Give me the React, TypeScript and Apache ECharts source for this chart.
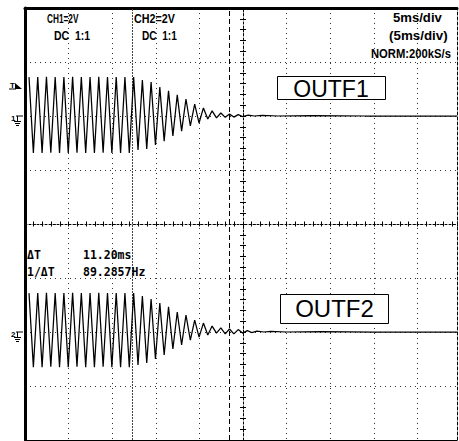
import React, { useEffect, useRef } from "react";
import * as echarts from "echarts";

// ---- time axis (ms), 5 ms/div ----
const TIME_MIN = -25;
const TIME_MAX = 24.54;
const TIME_DIV = 5;
const FIRST_PEAK_MS = -24.54;
const PERIOD_MS = 1.0;

// ---- channel 1 (2 V/div), extremes of each cycle ----
const ch1Peaks = [1.44, 1.44, 1.45, 1.44, 1.44, 1.45, 1.44, 1.44, 1.45, 1.44, 1.44, 1.44, 1.44, 1.33, 1.26, 1.07, 0.93, 0.78, 0.63, 0.44, 0.3, 0.19, 0.11];
const ch1Troughs = [-1.37, -1.37, -1.36, -1.37, -1.37, -1.36, -1.37, -1.37, -1.36, -1.37, -1.37, -1.37, -1.26, -1.22, -1.07, -0.93, -0.74, -0.56, -0.37, -0.26, -0.11, -0.07, -0.05];
const ch1Tail: [number, number][] = [[-1.55, 0.07], [-1.05, -0.04], [-0.55, 0.05], [-0.05, -0.02], [0.6, 0.03], [1.3, 0], [2.2, 0.02], [4, 0], [8, 0.01], [14, 0], [24.54, 0]];

// ---- channel 2 (2 V/div) ----
const ch2Peaks = [1.44, 1.44, 1.45, 1.44, 1.44, 1.45, 1.44, 1.44, 1.45, 1.44, 1.44, 1.44, 1.44, 1.33, 1.22, 1.07, 0.93, 0.74, 0.63, 0.44, 0.33, 0.22, 0.15];
const ch2Troughs = [-1.3, -1.3, -1.29, -1.3, -1.3, -1.29, -1.3, -1.3, -1.29, -1.3, -1.3, -1.3, -1.22, -1.15, -1.0, -0.85, -0.63, -0.48, -0.3, -0.19, -0.11, -0.04, -0.07];
const ch2Tail: [number, number][] = [[-1.55, 0.11], [-1.05, -0.07], [-0.55, 0.09], [-0.05, -0.04], [0.5, 0.05], [1.0, -0.02], [1.6, 0.03], [2.4, 0], [3.2, 0.02], [5, 0], [9, 0.01], [15, 0], [24.54, 0]];

// ---- cursors (ms) ----
const cursorTimes = [-12.75, -1.55];

// ---- texts ----
const headerTexts = ["CH1=2V", "DC  1:1", "CH2=2V", "DC  1:1", "5ms/div", "(5ms/div)", "NORM:200kS/s"];
const cursorTexts = ["ΔT", "11.20ms", "1/ΔT", "89.2857Hz"];
const boxLabels = ["OUTF1", "OUTF2"];

function buildWave(peaks: number[], troughs: number[], tail: [number, number][]) {
  const pts: [number, number][] = [];
  for (let k = 0; k < peaks.length; k++) {
    const t = FIRST_PEAK_MS + k * PERIOD_MS;
    pts.push([t, peaks[k]]);
    if (k < troughs.length) pts.push([t + PERIOD_MS / 2, troughs[k]]);
  }
  return pts.concat(tail);
}

const HEAD_FONT = "'Liberation Sans', Arial, sans-serif";
const MONO_FONT = "'DejaVu Sans Mono', 'Liberation Mono', monospace";

function headText(text: string, x: number, y: number, scaleX: number) {
  return {
    type: "text",
    x,
    y,
    scaleX,
    z: 100,
    style: {
      text,
      fontSize: 12.5,
      fontWeight: "bold",
      fontFamily: HEAD_FONT,
      fill: "#000",
      verticalAlign: "middle",
      textVerticalAlign: "middle",
    },
  };
}

function monoText(text: string, x: number, y: number) {
  return {
    type: "text",
    x,
    y,
    z: 100,
    style: {
      text,
      fontSize: 11.5,
      fontWeight: "bold",
      fontFamily: MONO_FONT,
      fill: "#000",
      verticalAlign: "middle",
      textVerticalAlign: "middle",
    },
  };
}

function groundMarker(label: string, y: number) {
  return [
    { type: "text", x: 11, y: y + 2, z: 100, style: { text: label, fontSize: 8, fontWeight: "bold", fontFamily: HEAD_FONT, fill: "#000", verticalAlign: "middle", textVerticalAlign: "middle" } },
    { type: "line", z: 100, shape: { x1: 16, y1: y, x2: 23, y2: y }, style: { stroke: "#000", lineWidth: 1 } },
    { type: "line", z: 100, shape: { x1: 17.5, y1: y, x2: 17.5, y2: y + 5 }, style: { stroke: "#000", lineWidth: 1 } },
    { type: "line", z: 100, shape: { x1: 14, y1: y + 5.5, x2: 21, y2: y + 5.5 }, style: { stroke: "#000", lineWidth: 1 } },
    { type: "line", z: 100, shape: { x1: 15, y1: y + 7.5, x2: 20, y2: y + 7.5 }, style: { stroke: "#000", lineWidth: 1 } },
    { type: "line", z: 100, shape: { x1: 16, y1: y + 9.5, x2: 19, y2: y + 9.5 }, style: { stroke: "#000", lineWidth: 1 } },
  ];
}

export default function App() {
  const ref = useRef<HTMLDivElement>(null);

  useEffect(() => {
    if (!ref.current) return;
    const chart = echarts.init(ref.current, undefined, { renderer: "svg" });

    const hidden = { show: false };
    const gridSplit = { show: true, lineStyle: { color: "#333", width: 1, type: [1, 4] as any } };

    const option: any = {
      animation: false,
      backgroundColor: "#fff",
      grid: { left: 25, top: 8, width: 432, height: 432, containLabel: false },
      xAxis: [
        {
          type: "value", position: "top", min: TIME_MIN, max: TIME_MAX, interval: TIME_DIV,
          axisLine: { show: true, onZero: false, lineStyle: { color: "#000", width: 3 } },
          axisTick: hidden, axisLabel: hidden, splitLine: gridSplit,
        },
        {
          type: "value", position: "bottom", min: TIME_MIN, max: TIME_MAX, interval: TIME_DIV,
          axisLine: { show: true, onZero: false, lineStyle: { color: "#000", width: 1 } },
          axisTick: hidden, axisLabel: hidden, splitLine: hidden,
        },
        {
          type: "value", position: "bottom", min: TIME_MIN, max: TIME_MAX, interval: 1,
          axisLine: { show: true, onZero: true, onZeroAxisIndex: 2, lineStyle: { color: "#000", width: 1, type: [2, 2] as any } },
          axisTick: { show: true, inside: false, length: 2.5, lineStyle: { color: "#000", width: 1 } },
          axisLabel: hidden, splitLine: hidden,
        },
        {
          type: "value", position: "bottom", min: TIME_MIN, max: TIME_MAX, interval: 1,
          axisLine: { show: false, onZero: true, onZeroAxisIndex: 2 },
          axisTick: { show: true, inside: true, length: 2.5, lineStyle: { color: "#000", width: 1 } },
          axisLabel: hidden, splitLine: hidden,
        },
      ],
      yAxis: [
        { type: "value", min: -12, max: 4, show: false, axisLine: { onZero: false } },
        { type: "value", min: -4, max: 12, show: false, axisLine: { onZero: false } },
        {
          type: "value", position: "left", min: -8, max: 8, interval: 2,
          axisLine: { show: true, onZero: false, lineStyle: { color: "#000", width: 3 } },
          axisTick: hidden, axisLabel: hidden, splitLine: gridSplit,
        },
        {
          type: "value", position: "left", min: -8, max: 8, interval: 0.4,
          axisLine: { show: true, onZero: true, onZeroAxisIndex: 0, lineStyle: { color: "#000", width: 1, type: [2, 2] as any } },
          axisTick: { show: true, inside: false, length: 3, lineStyle: { color: "#000", width: 1 } },
          axisLabel: hidden, splitLine: hidden,
        },
        {
          type: "value", position: "left", min: -8, max: 8, interval: 0.4,
          axisLine: { show: false, onZero: true, onZeroAxisIndex: 0 },
          axisTick: { show: true, inside: true, length: 3, lineStyle: { color: "#000", width: 1 } },
          axisLabel: hidden, splitLine: hidden,
        },
        {
          type: "value", position: "right", min: -8, max: 8, interval: 2,
          axisLine: { show: true, onZero: false, lineStyle: { color: "#000", width: 1, type: [3, 2] as any } },
          axisTick: hidden, axisLabel: hidden, splitLine: hidden,
        },
      ],
      series: [
        {
          name: "CH1", type: "line", xAxisIndex: 0, yAxisIndex: 0,
          data: buildWave(ch1Peaks, ch1Troughs, ch1Tail),
          showSymbol: false, symbol: "none", z: 10,
          lineStyle: { color: "#000", width: 1.25 },
          markLine: {
            silent: true, symbol: "none", label: { show: false },
            data: [
              { xAxis: cursorTimes[0], lineStyle: { color: "#444", width: 1, type: [2, 1] } },
              { xAxis: cursorTimes[1], lineStyle: { color: "#000", width: 1, type: [5, 3] } },
            ],
          },
        },
        {
          name: "CH2", type: "line", xAxisIndex: 0, yAxisIndex: 1,
          data: buildWave(ch2Peaks, ch2Troughs, ch2Tail),
          showSymbol: false, symbol: "none", z: 10,
          lineStyle: { color: "#000", width: 1.25 },
        },
      ],
      graphic: {
        elements: [
          headText(headerTexts[0], 47, 18, 0.66),
          headText(headerTexts[1], 54, 35.5, 0.84),
          headText(headerTexts[2], 134, 18, 0.86),
          headText(headerTexts[3], 142, 35.5, 0.81),
          headText(headerTexts[4], 393, 18, 1.05),
          headText(headerTexts[5], 389, 36, 1.07),
          headText(headerTexts[6], 371, 54, 0.9),
          monoText(cursorTexts[0], 27, 255),
          monoText(cursorTexts[1], 83, 255),
          monoText(cursorTexts[2], 27, 272),
          monoText(cursorTexts[3], 83, 272),
          { type: "rect", z: 90, shape: { x: 277.5, y: 76.5, width: 108, height: 23 }, style: { fill: "#fff", stroke: "#000", lineWidth: 1 } },
          { type: "text", z: 100, x: 331, y: 88.5, style: { text: boxLabels[0], fontSize: 23, fontFamily: HEAD_FONT, fill: "#000", align: "center", verticalAlign: "middle", textAlign: "center", textVerticalAlign: "middle" } },
          { type: "rect", z: 90, shape: { x: 280.5, y: 294.5, width: 108, height: 29 }, style: { fill: "#fff", stroke: "#000", lineWidth: 1 } },
          { type: "text", z: 100, x: 334.5, y: 308.5, style: { text: boxLabels[1], fontSize: 24, fontFamily: HEAD_FONT, fill: "#000", align: "center", verticalAlign: "middle", textAlign: "center", textVerticalAlign: "middle" } },
          // trigger marker
          { type: "text", z: 100, x: 10, y: 85, style: { text: "T", fontSize: 8, fontWeight: "bold", fontFamily: HEAD_FONT, fill: "#000", verticalAlign: "middle", textVerticalAlign: "middle" } },
          { type: "line", z: 100, shape: { x1: 9, y1: 89, x2: 16, y2: 89 }, style: { stroke: "#000", lineWidth: 1 } },
          { type: "polygon", z: 100, shape: { points: [[15, 83], [22, 89], [15, 89]] }, style: { fill: "#000" } },
          ...groundMarker("1", 116),
          ...groundMarker("2", 332),
        ],
      },
    };

    chart.setOption(option);
    return () => chart.dispose();
  }, []);

  return (
    <div
      ref={ref}
      style={{ position: "absolute", left: 0, top: 0, width: 459, height: 441, background: "#fff" }}
    />
  );
}
